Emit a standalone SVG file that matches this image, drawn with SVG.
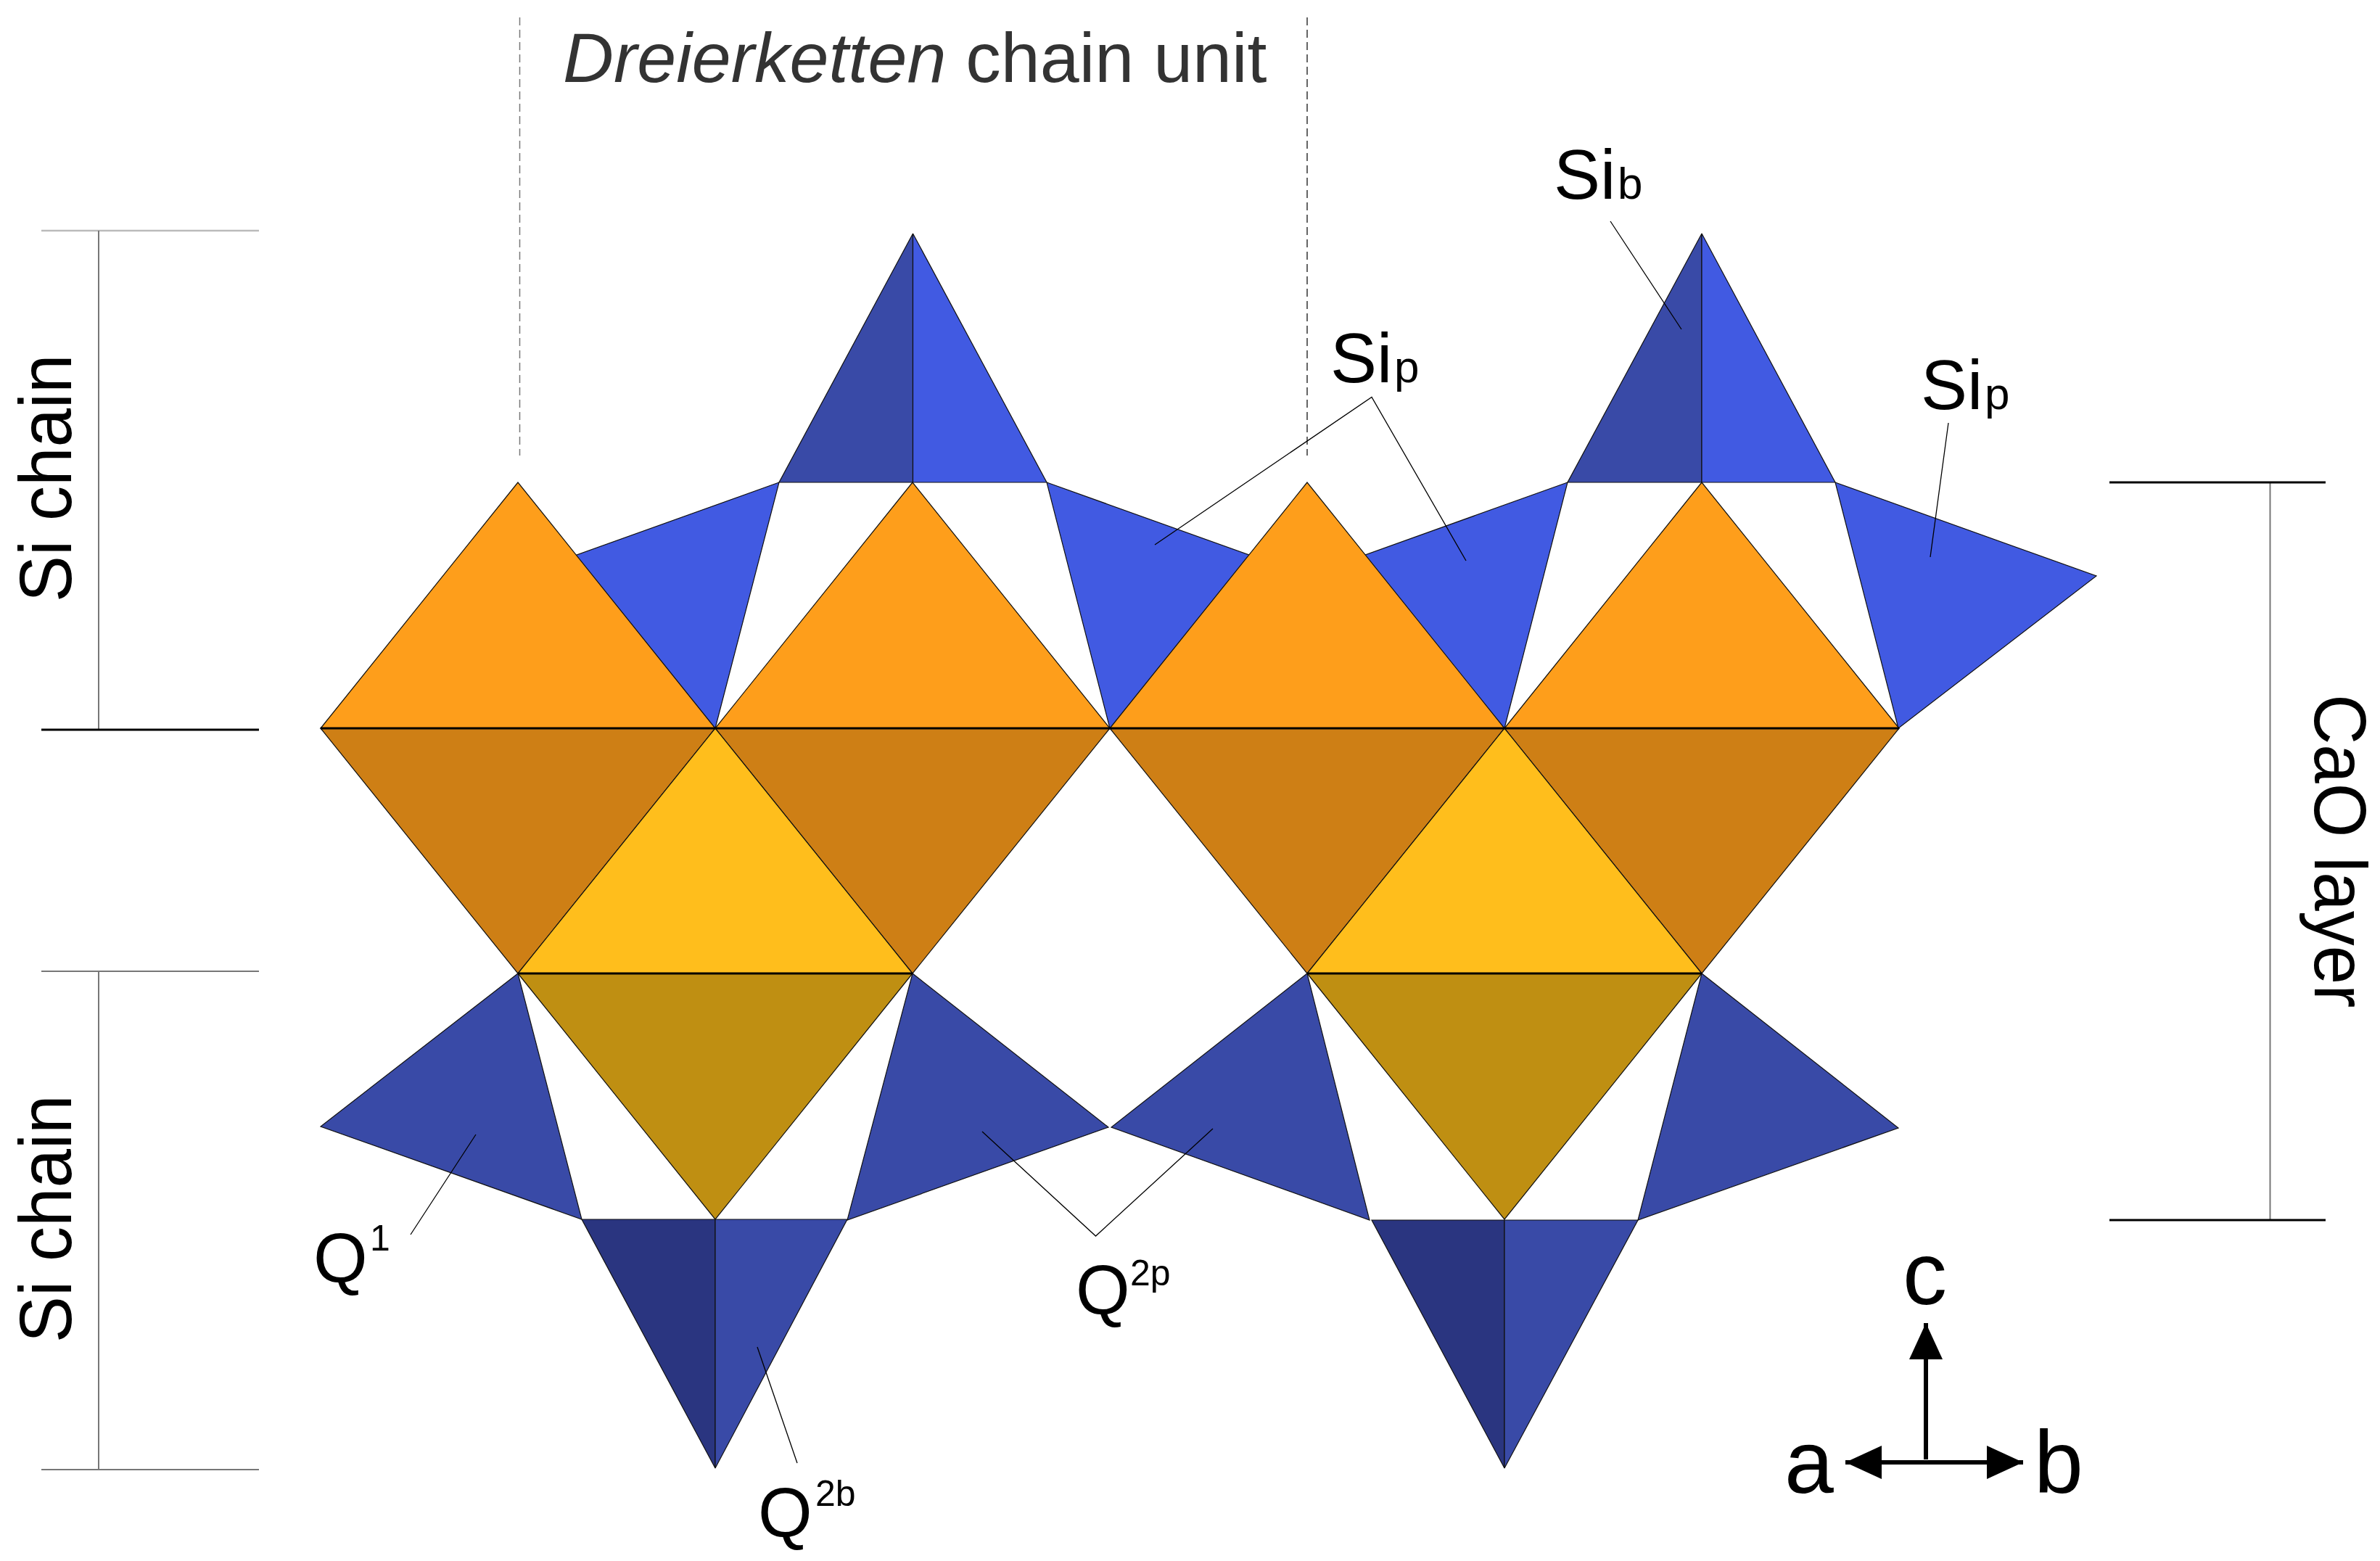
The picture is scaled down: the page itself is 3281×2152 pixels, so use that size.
<svg xmlns="http://www.w3.org/2000/svg" width="3281" height="2152" viewBox="0 0 3281 2152">
<defs>
<style>
text{font-family:"Liberation Sans",Arial,sans-serif;font-size:96px;fill:#000}
.sm{font-size:62px}.sup{font-size:50px}.axl{font-size:122px}
polygon{stroke:#111;stroke-width:1.2;stroke-linejoin:miter}
.bright{fill:#415AE2}.mid{fill:#394AA7}.deep{fill:#2A3580}
.or{fill:#FE9E1B}.dor{fill:#CE7F15}.yl{fill:#FFBE1C}.gd{fill:#BF8F12}
.thin{stroke:#000;stroke-width:1.3;fill:none}
.gray{stroke:#777;stroke-width:2;fill:none}
.pale{stroke:#bbb;stroke-width:2.500;fill:none}
.blk{stroke:#000;stroke-width:3;fill:none}
.dash{stroke:#333;stroke-width:1.5;stroke-dasharray:11 6;fill:none}
.dashg{stroke:#777;stroke-width:1.5;stroke-dasharray:11 6;fill:none}
.ax{stroke:#000;stroke-width:6;fill:none}
</style>
<marker id="head" markerUnits="userSpaceOnUse" markerWidth="54" markerHeight="46" refX="50" refY="23" orient="auto"><path d="M0 0L50 23L0 46Z" fill="#000"/></marker>
</defs>
<rect width="3281" height="2152" fill="#fff"/>
<g id="upper-si-chain">
<polygon class="bright" points="1074,665 714,794 986,1004"/>
<polygon class="bright" points="1443,665 1803,794 1530,1004"/>
<polygon class="bright" points="2161,665 1801,794 2074,1004"/>
<polygon class="bright" points="2530,665 2890,794 2617,1004"/>
<polygon class="mid" points="1258.500,322 1258.500,665 1074,665"/>
<polygon class="bright" points="1258.500,322 1258.500,665 1443,665"/>
<polygon class="mid" points="2346,322 2346,665 2161,665"/>
<polygon class="bright" points="2346,322 2346,665 2530,665"/>
</g>
<g id="lower-si-chain">
<polygon class="mid" points="714,1342 442,1553 802,1681"/>
<polygon class="mid" points="1258,1342 1528,1554 1168,1682"/>
<polygon class="mid" points="1802,1342 1532,1554 1888,1682"/>
<polygon class="mid" points="2346,1342 2617,1555 2258,1682"/>
<polygon class="deep" points="802,1681 986,1681 986,2024"/>
<polygon class="mid" points="986,1681 1168,1681 986,2024"/>
<polygon class="deep" points="1891,1682 2074,1682 2074,2024"/>
<polygon class="mid" points="2074,1682 2258,1682 2074,2024"/>
</g>
<g id="cao-layer">
<polygon class="or" points="714,665 442,1004 986,1004"/>
<polygon class="or" points="1258,665 986,1004 1530,1004"/>
<polygon class="or" points="1802,665 1530,1004 2074,1004"/>
<polygon class="or" points="2346,665 2074,1004 2618,1004"/>
<polygon class="dor" points="442,1004 986,1004 714,1342"/>
<polygon class="dor" points="986,1004 1530,1004 1258,1342"/>
<polygon class="dor" points="1530,1004 2074,1004 1802,1342"/>
<polygon class="dor" points="2074,1004 2618,1004 2346,1342"/>
<polygon class="yl" points="986,1004 714,1342 1258,1342"/>
<polygon class="yl" points="2074,1004 1802,1342 2346,1342"/>
<polygon class="gd" points="714,1342 1258,1342 986,1681"/>
<polygon class="gd" points="1802,1342 2346,1342 2074,1681"/>
<path class="blk" d="M442 1004H2618M714 1342H1258M1802 1342H2346"/>
</g>
<g id="connectors">
<path class="pale" d="M57 318H357"/>
<path class="gray" d="M136 318V1006M136 1339V2026M57 1339H357M57 2026H357M3129.500 665V1682"/>
<path class="blk" d="M57 1006H357M2908 665H3206M2908 1682H3206"/>
<path class="dashg" d="M716.500 24V628"/>
<path class="dash" d="M1802 24V628"/>
<path class="thin" d="M2220 305L2318 454M1592 751L1891 547.500L2021 773M2686 583L2661 768M566 1702L656 1564M1354 1560L1510.500 1704L1672 1556M1044 1857L1099 2017"/>
<path class="ax" d="M2655 2012V1824" marker-end="url(#head)"/>
<path class="ax" d="M2655 2016H2544" marker-end="url(#head)"/>
<path class="ax" d="M2655 2016H2789" marker-end="url(#head)"/>
</g>
<g id="labels">
<text x="776" y="113" style="fill:#333;font-size:97px"><tspan font-style="italic">Dreierketten</tspan> chain unit</text>
<text transform="translate(98,830) rotate(-90) scale(1,1.07)">Si chain</text>
<text transform="translate(98,1851) rotate(-90) scale(1,1.07)">Si chain</text>
<text transform="translate(3191,957) rotate(90) scale(1,1.07)">CaO layer</text>
<text x="2142" y="274">Si<tspan class="sm" x="2230">b</tspan></text>
<text x="1834" y="527">Si<tspan class="sm" x="1922">p</tspan></text>
<text x="2648" y="564">Si<tspan class="sm" x="2736">p</tspan></text>
<text x="432" y="1768">Q</text><text class="sup" x="510" y="1724">1</text>
<text x="1483" y="1812">Q</text><text class="sup" x="1558" y="1772">2p</text>
<text x="1045" y="2119">Q</text><text class="sup" x="1124" y="2076">2b</text>
<text class="axl" x="2623" y="1798">c</text>
<text class="axl" x="2460" y="2058">a</text>
<text class="axl" x="2804" y="2058">b</text>
</g>
</svg>
